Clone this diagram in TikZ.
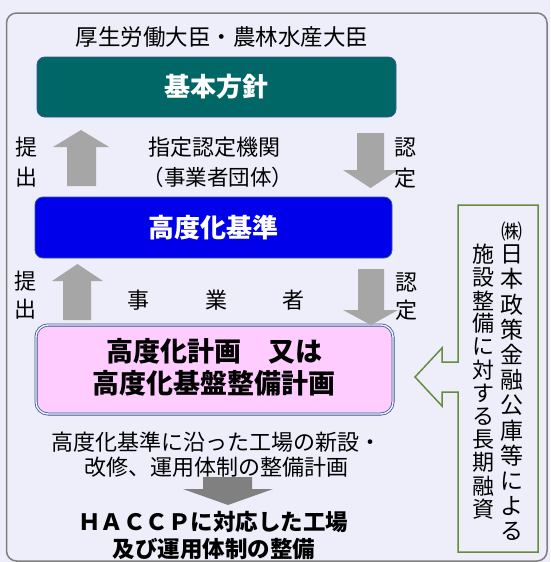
\documentclass[tikz,border=0pt]{standalone}
\usepackage{fontspec}
\setmainfont{Noto Sans CJK JP}
\definecolor{bgc}{RGB}{238,238,250}
\definecolor{framec}{RGB}{128,128,128}
\definecolor{tealc}{RGB}{0,102,102}
\definecolor{bluec}{RGB}{0,0,235}
\definecolor{pinkc}{RGB}{255,204,255}
\definecolor{navyc}{RGB}{55,85,145}
\definecolor{arrowc}{RGB}{166,166,166}
\definecolor{darkarrowc}{RGB}{128,128,128}
\definecolor{greenc}{RGB}{100,140,60}
\tikzset{
  txt/.style={inner sep=0pt, anchor=center, font=\fontsize{22}{26}\selectfont},
  boxtxt/.style={inner sep=0pt, anchor=center, text=white, font=\fontsize{26}{30}\selectfont\bfseries},
  mainbox/.style={rounded corners=8pt, draw=navyc, line width=0.8pt},
  blockarrow/.style={fill=arrowc, draw=none},
}
\begin{document}
\begin{tikzpicture}[x=1pt,y=-1pt]
\useasboundingbox (0,0) rectangle (550,562);
\fill[bgc] (0,0) rectangle (550,562);
% outer frame
\draw[framec, line width=1.5pt, rounded corners=10pt] (6.5,13) rectangle (547,561);
% title
\node[txt, font=\fontsize{22.5}{26}\selectfont] (title) at (222,37) {厚生労働大臣・農林水産大臣};
% boxes
\node[mainbox, fill=tealc, minimum width=359pt, minimum height=60pt, inner sep=0pt] (kihon) at (216.5,87) {};
\node[boxtxt] (kihontxt) at (kihon.center) {基本方針};
\node[mainbox, fill=bluec, minimum width=357pt, minimum height=61pt, inner sep=0pt] (kijun) at (213.5,227.5) {};
\node[boxtxt] (kijuntxt) at (kijun.center) {高度化基準};
\node[rounded corners=12pt, draw=navyc, double=bgc!60!white, double distance=1.4pt, line width=0.8pt, fill=pinkc, minimum width=357pt, minimum height=89pt, inner sep=0pt] (keikaku) at (214.5,369.5) {};
\node[txt, font=\fontsize{27}{32}\selectfont\bfseries] (k1) at (214,351) {高度化計画　又は};
\node[txt, font=\fontsize{27}{32}\selectfont\bfseries] (k2) at (214,383) {高度化基盤整備計画};
% block arrows
\fill[blockarrow] (67,186) -- (67,147) -- (53,147) -- (81,130) -- (109,147) -- (96,147) -- (96,186) -- cycle;
\fill[blockarrow] (357,133) -- (384,133) -- (384,170) -- (398,170) -- (370.5,188) -- (343,170) -- (357,170) -- cycle;
\fill[blockarrow] (63,320) -- (63,281) -- (52,281) -- (77.5,264) -- (103,281) -- (91,281) -- (91,320) -- cycle;
\fill[blockarrow] (358,269) -- (384,269) -- (384,310) -- (398,310) -- (371,325) -- (343,310) -- (358,310) -- cycle;
\fill[darkarrowc] (203,477) -- (252,477) -- (252,489) -- (273,489) -- (228,505) -- (183,489) -- (203,489) -- cycle;
% side labels
\node[txt] (t1a) at (27,147) {提};
\node[txt] (t1b) at (27,177) {出};
\node[txt] (n1a) at (405,147) {認};
\node[txt] (n1b) at (405,178) {定};
\node[txt] (t2a) at (25,281) {提};
\node[txt] (t2b) at (25,309) {出};
\node[txt] (n2a) at (406,282) {認};
\node[txt] (n2b) at (406,310) {定};
% middle texts
\node[txt] (org1) at (214,147) {指定認定機関};
\node[txt, font=\fontsize{21.5}{26}\selectfont] (org2) at (218,177) {（事業者団体）};
\node[txt] (j1) at (138,300) {事};
\node[txt] (j2) at (216,300) {業};
\node[txt] (j3) at (293,300) {者};
\node[txt] (d1) at (216,442) {高度化基準に沿った工場の新設・};
\node[txt] (d2) at (216,467) {改修、運用体制の整備計画};
\node[txt, font=\fontsize{22.5}{26}\selectfont\bfseries] (h1) at (213,522) {ＨＡＣＣＰに対応した工場};
\node[txt, font=\fontsize{22.5}{26}\selectfont\bfseries] (h2) at (214,549) {及び運用体制の整備};
% callout
\draw[greenc, line width=1.5pt, fill=bgc] (458,205) -- (538,205) -- (538,552) -- (458,552) -- (458,392) -- (442,392) -- (442,406) -- (415,377) -- (442,348) -- (442,362) -- (458,362) -- cycle;
\node[txt, font=\fontsize{21}{24}\selectfont] (kabu) at (512,232) {㈱};
\foreach \c [count=\i] in {日,本,政,策,金,融,公,庫,等,に,よ,る}
  \node[txt, font=\fontsize{23}{26}\selectfont] (r\i) at (512,{254+(\i-1)*25.2}) {\c};
\foreach \c [count=\i] in {施,設,整,備,に,対,す,る,長,期,融,資}
  \node[txt, font=\fontsize{22}{26}\selectfont] (l\i) at (483,{254+(\i-1)*23.2}) {\c};
\end{tikzpicture}
\end{document}
